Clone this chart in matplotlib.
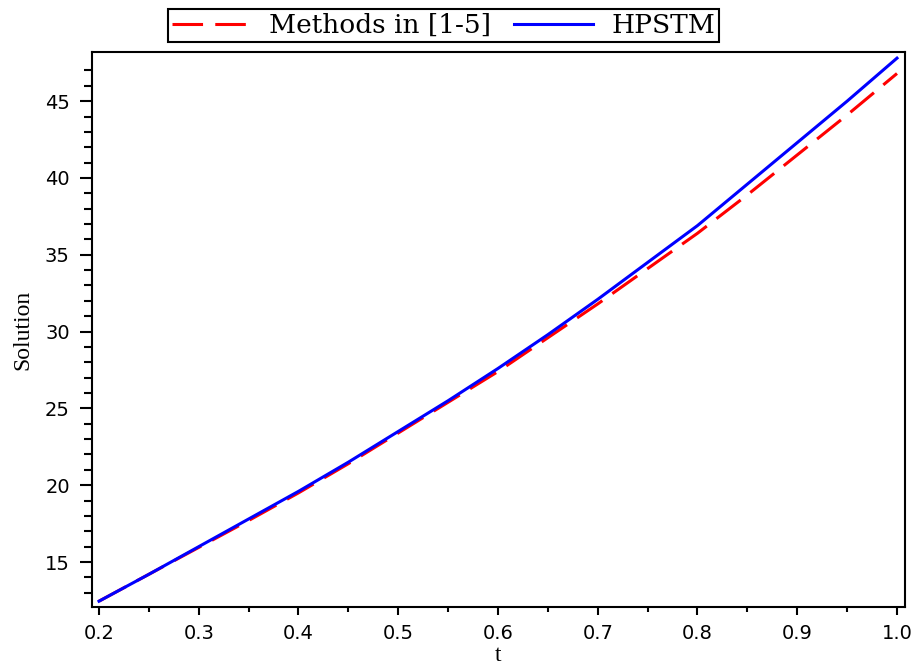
import matplotlib

matplotlib.use("Agg")
import matplotlib.pyplot as plt
from matplotlib.ticker import FixedLocator, MultipleLocator

t = [0.2, 0.25, 0.3, 0.35, 0.4, 0.45, 0.5, 0.55, 0.6, 0.65, 0.7, 0.75, 0.8, 0.85, 0.9, 0.95, 1.0]
methods = [12.45, 14.2, 15.95, 17.7, 19.5, 21.4, 23.4, 25.4, 27.4, 29.6, 31.8, 34.1, 36.4, 38.9, 41.5, 44.1, 46.8]
hpstm = [12.45, 14.2, 16.0, 17.8, 19.6, 21.5, 23.5, 25.5, 27.6, 29.8, 32.1, 34.5, 36.9, 39.6, 42.3, 45.0, 47.8]
xticks = [0.2, 0.3, 0.4, 0.5, 0.6, 0.7, 0.8, 0.9, 1.0]
xtick_labels = ["0.2", "0.3", "0.4", "0.5", "0.6", "0.7", "0.8", "0.9", "1.0"]

fig = plt.figure(figsize=(9.21, 6.64), dpi=100)
ax = fig.add_axes([0.0999, 0.0858, 0.8827, 0.8359])

ax.plot(t, methods, color="red", lw=2.2, dashes=(10, 4), label="Methods in [1-5]")
ax.plot(t, hpstm, color="blue", lw=2.2, label="HPSTM")

ax.set_xlim(0.193, 1.008)
ax.set_ylim(12.07, 48.2)
ax.set_xticks(xticks)
ax.set_xticklabels(xtick_labels)
ax.xaxis.set_minor_locator(MultipleLocator(0.05))
ax.yaxis.set_major_locator(MultipleLocator(5))
ax.yaxis.set_minor_locator(FixedLocator(range(13, 48)))
ax.tick_params(axis="x", which="major", direction="out", length=6, width=1.5, pad=6, labelsize=14)
ax.tick_params(axis="x", which="minor", direction="out", length=3.5, width=1.5)
ax.tick_params(axis="y", which="major", direction="out", length=9, width=1.5, pad=7, labelsize=14)
ax.tick_params(axis="y", which="minor", direction="out", length=5.5, width=1.5)
for s in ax.spines.values():
    s.set_linewidth(1.5)

ax.set_xlabel("t", family="Liberation Serif", fontsize=17)
ax.set_ylabel("Solution", family="Liberation Serif", fontsize=17)
ax.xaxis.set_label_coords(0.5, -0.068)
ax.yaxis.set_label_coords(-0.0726, 0.5)

leg = fig.legend(loc="center", bbox_to_anchor=(0.4816, 0.9616), ncol=2,
                 prop={"family": "DejaVu Serif", "size": 19},
                 frameon=True, fancybox=False, edgecolor="black", framealpha=1,
                 handlelength=3.0, borderpad=0.15, columnspacing=0.85, handletextpad=0.7)
leg.get_frame().set_linewidth(1.5)

fig.savefig("out.png", dpi=100)
